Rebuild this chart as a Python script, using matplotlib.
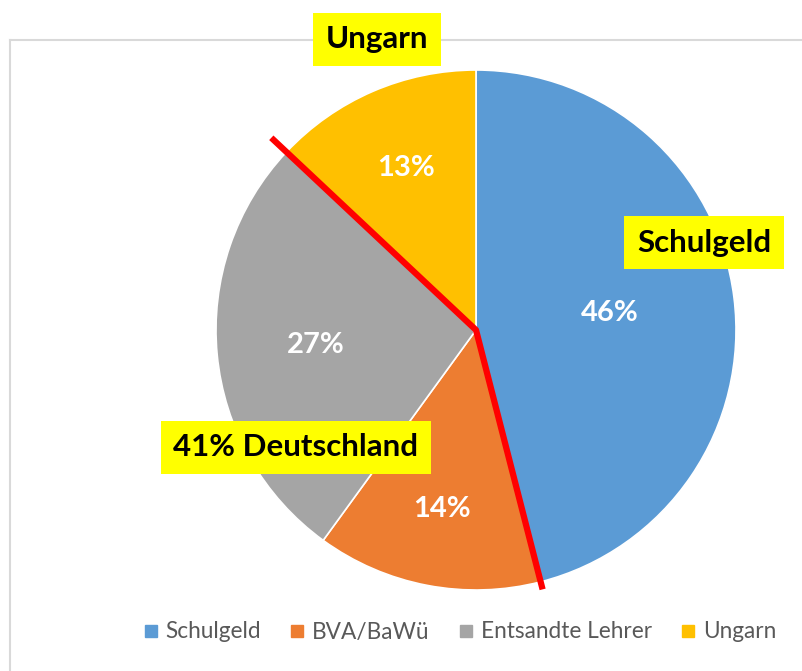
import matplotlib
matplotlib.use("Agg")
import matplotlib.pyplot as plt
from matplotlib.lines import Line2D
import numpy as np

# data
categories = ["Schulgeld", "BVA/BaWü", "Entsandte Lehrer", "Ungarn"]
shares = [46, 14, 27, 13]
colors = ["#5B9BD5", "#ED7D31", "#A5A5A5", "#FFC000"]
callouts = ["Schulgeld", "41% Deutschland", "Ungarn"]

W, H = 803, 671
fig = plt.figure(figsize=(W / 100, H / 100), dpi=100)

# chart frame (top and left edge only visible), drawn below everything
fig.add_artist(Line2D([10 / W, 1], [1 - 40 / H] * 2, color="#D9D9D9", lw=1.5, zorder=-1))
fig.add_artist(Line2D([10 / W] * 2, [0, 1 - 40 / H], color="#D9D9D9", lw=1.5, zorder=-1))

ax = fig.add_axes([0, 0, 1, 1])
ax.patch.set_visible(False)

cx, cy, r = 476, H - 330, 260
wedges, _ = ax.pie(shares, colors=colors, startangle=90, counterclock=False,
                   center=(cx, cy), radius=r, frame=True,
                   wedgeprops=dict(edgecolor="white", linewidth=1.2))

# percent labels, distance per slice (Excel "best fit" look)
dists = [0.52, 0.70, 0.62, 0.68]
for w, val, d in zip(wedges, shares, dists):
    mid = np.deg2rad((w.theta1 + w.theta2) / 2)
    ax.text(cx + d * r * np.cos(mid), cy + d * r * np.sin(mid), f"{val}%",
            ha="center", va="center", color="white", fontsize=21,
            fontweight="bold", family="Lato")

# red split lines along slice boundaries
a_top = np.deg2rad(90 + shares[3] / 100 * 360)
a_bot = np.deg2rad(90 - shares[0] / 100 * 360)
ax.plot([cx + 1.08 * r * np.cos(a_top), cx, cx + 1.03 * r * np.cos(a_bot)],
        [cy + 1.08 * r * np.sin(a_top), cy, cy + 1.03 * r * np.sin(a_bot)],
        color="#FF0000", lw=4.5, solid_capstyle="butt", zorder=5)

# yellow call-out boxes
box = dict(boxstyle="square,pad=0.4", facecolor="#FFFF00", edgecolor="none")
for txt, (px, py) in zip(callouts, [(704, 243), (296, 447), (377, 39)]):
    ax.text(px, H - py, txt, ha="center", va="center", fontsize=22.5,
            fontweight="bold", family="Lato", color="black", bbox=box, zorder=6)

ax.set_xlim(0, W)
ax.set_ylim(0, H)
ax.axis("off")

handles = [Line2D([], [], marker="s", ls="", color=c, markersize=8) for c in colors]
leg = fig.legend(handles, categories, ncol=4, loc="center",
                 bbox_to_anchor=(460 / W, 1 - 632 / H), frameon=False,
                 handlelength=0.6, handletextpad=0.35, columnspacing=1.3,
                 prop=dict(family="Lato", size=16.3))
for t in leg.get_texts():
    t.set_color("#595959")

fig.savefig("out.png", dpi=100)
